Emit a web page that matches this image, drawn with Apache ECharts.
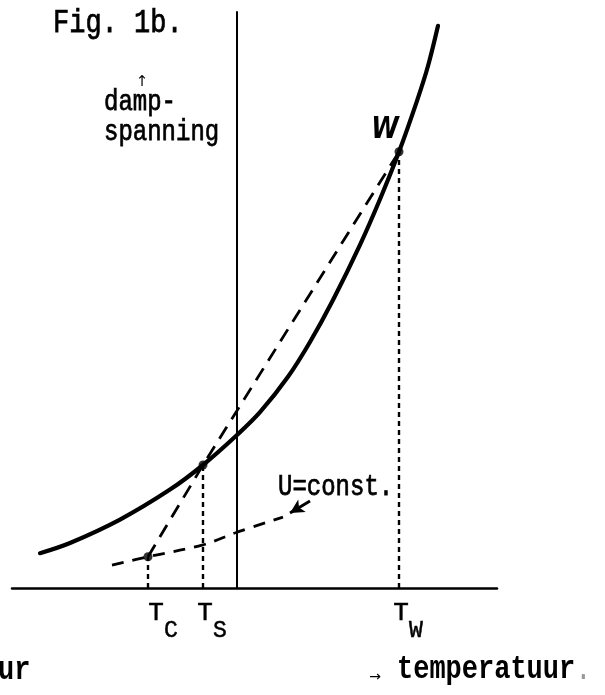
<!DOCTYPE html>
<html>
<head>
<meta charset="utf-8">
<script src="https://cdn.jsdelivr.net/npm/echarts@6/dist/echarts.min.js"></script>
<style>
  html, body { margin: 0; padding: 0; background: #fff; }
  #chart { width: 605px; height: 695px; }
</style>
</head>
<body>
<div id="chart"></div>
<script>
// Saturated vapour pressure against temperature (arbitrary units, T = 0 at the vertical axis)
const curveT = [-39.4, -33.4, -23.4, -13.4, -6.8, 0, 4.6, 10.2, 14.6, 19.2, 24.6, 28.6, 32.4, 36, 38.2, 40.2];
const curveP = [5.8, 7.5, 11.4, 16.4, 20.5, 25.5, 29.3, 35.2, 41, 48, 57.2, 64.8, 72.7, 81.2, 87, 93.7];

// Dashed line from C through S to W
const chordT = [-17.8, -6.8, 32.4];
const chordP = [5.2, 20.5, 72.7];

// Curve of constant U
const uT = [-25, -17.8, -6.8, 0, 9.2];
const uP = [3.8, 5.2, 7.2, 9.3, 11.8];

// Marked states: T_C, T_S, T_W
const markT = [-17.8, -6.8, 32.4];
const markP = [5.2, 20.5, 72.7];
const markSub = ['C', 'S', 'W'];

// Arrow from the "U=const." label onto its curve
const arrowT = [14.6, 10.6];
const arrowP = [14.5, 12.5];

const pairs = (xs, ys) => xs.map((x, i) => [x, ys[i]]);
const MONO = '"Liberation Mono", "Courier New", monospace';
const INK = '#000';

// typewriter-style text: slightly heavier strokes, a bit taller than the font
function typed(text, x, y, size, extra) {
  return Object.assign({
    type: 'text', x: x, y: y, scaleY: 1.25,
    style: {
      text: text, fill: INK, stroke: INK, lineWidth: 0.6,
      font: 'normal ' + size + 'px ' + MONO,
      align: 'left', verticalAlign: 'middle'
    }
  }, extra || {});
}

const dotted = markT.map((t, i) => ({
  type: 'line',
  data: [[t, 0], [t, markP[i]]],
  symbol: 'none',
  lineStyle: { color: INK, width: 2.4, type: [5, 4] },
  z: 2
}));

const chart = echarts.init(document.getElementById('chart'), null, { renderer: 'canvas' });

chart.setOption({
  animation: false,
  backgroundColor: '#fff',
  grid: { left: 12, right: 108, top: 12, bottom: 107 },
  xAxis: {
    type: 'value', min: -45, max: 52,
    axisLine: { show: true, onZero: false, lineStyle: { color: INK, width: 2.5 } },
    axisTick: { show: false },
    splitLine: { show: false },
    axisLabel: {
      show: true,
      customValues: markT,
      margin: 12,
      formatter: function (v) {
        let k = 0;
        markT.forEach((t, i) => { if (Math.abs(t - v) < Math.abs(markT[k] - v)) k = i; });
        return (k === 0 ? '{t0|T}' : '{t|T}') + '{s|' + markSub[k] + '}';
      },
      rich: {
        t0: { fontFamily: MONO, fontSize: 26, color: INK, textBorderColor: INK, textBorderWidth: 0.5, lineHeight: 42, verticalAlign: 'top', padding: [0, 0, 0, 30] },
        t: { fontFamily: MONO, fontSize: 26, color: INK, textBorderColor: INK, textBorderWidth: 0.5, lineHeight: 42, verticalAlign: 'top', padding: [0, 0, 0, 18] },
        s: { fontFamily: MONO, fontSize: 23, color: INK, textBorderColor: INK, textBorderWidth: 0.5, lineHeight: 42, verticalAlign: 'bottom' }
      }
    }
  },
  yAxis: {
    type: 'value', min: 0, max: 96,
    axisLine: { show: true, onZero: true, lineStyle: { color: INK, width: 2 } },
    axisTick: { show: false },
    axisLabel: { show: false },
    splitLine: { show: false }
  },
  series: [
    {
      type: 'line',
      data: pairs(curveT, curveP),
      smooth: 0.35,
      symbol: 'none',
      lineStyle: { color: INK, width: 4.2, cap: 'round' },
      z: 5
    },
    {
      type: 'line',
      data: pairs(chordT, chordP),
      symbol: 'none',
      lineStyle: { color: INK, width: 2.8, type: [14, 9] },
      z: 4
    },
    {
      type: 'line',
      data: pairs(uT, uP),
      smooth: 0.4,
      symbol: 'none',
      lineStyle: { color: INK, width: 2.8, type: [12, 9] },
      z: 4
    },
    ...dotted,
    {
      type: 'scatter',
      data: pairs(markT, markP),
      symbolSize: 9,
      itemStyle: { color: INK },
      z: 6
    },
    {
      type: 'line',
      data: [],
      markLine: {
        silent: true,
        symbol: ['none', 'arrow'],
        symbolSize: [11, 14],
        label: { show: false },
        lineStyle: { color: INK, width: 3, type: 'solid' },
        data: [[{ coord: [arrowT[0], arrowP[0]] }, { coord: [arrowT[1], arrowP[1]] }]]
      }
    }
  ],
  graphic: [
    typed('Fig. 1b.', 53, 23, 27),
    {
      type: 'text', x: 142, y: 82,
      style: { text: '↑', fill: INK, font: 'normal 15px "DejaVu Sans"', align: 'center', verticalAlign: 'middle' }
    },
    typed('damp-', 104, 102, 24),
    typed('spanning', 104, 132, 24),
    typed('U=const.', 278, 487, 24),
    {
      type: 'text', x: 385, y: 130, scaleY: 1.2,
      style: { text: 'W', fill: INK, font: 'italic bold 25px "DejaVu Sans"', align: 'center', verticalAlign: 'middle' }
    },
    {
      type: 'text', x: 375, y: 677,
      style: { text: '→', fill: INK, font: 'normal 14px "DejaVu Sans"', align: 'center', verticalAlign: 'middle' }
    },
    {
      type: 'text', x: 397, y: 670, scaleY: 1.2,
      style: {
        text: '{b|temperatuur}{p|.}',
        align: 'left', verticalAlign: 'middle',
        rich: {
          b: { fontFamily: MONO, fontWeight: 'bold', fontSize: 27, fill: INK },
          p: { fontFamily: MONO, fontSize: 27, fill: '#999' }
        }
      }
    },
    {
      type: 'text', x: -2, y: 671, scaleY: 1.2,
      style: { text: 'ur', fill: INK, font: 'bold 27px ' + MONO, align: 'left', verticalAlign: 'middle' }
    }
  ]
});
</script>
</body>
</html>
